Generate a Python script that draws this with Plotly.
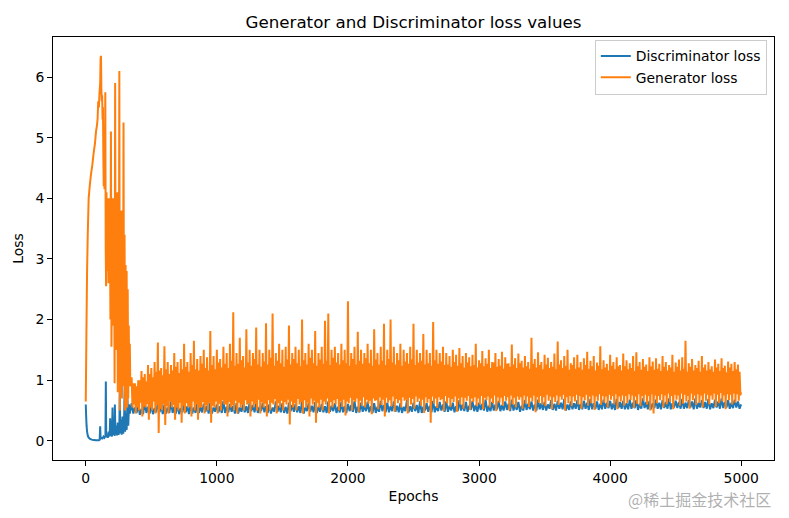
import plotly.graph_objects as go

# ---- Generator loss: early phase (epoch, loss) ----
gen_early_epochs = [0, 5, 10, 15, 22, 30, 40, 50, 60, 70, 78, 85, 90, 95, 100, 105, 110, 113, 116, 119,
                    122, 125, 128, 131, 134, 137, 140, 143, 146, 149, 152, 155, 158, 161, 164, 167, 170,
                    173, 176, 180, 184, 188, 192, 196, 200, 204, 208, 212, 216, 220, 224, 228, 232, 236,
                    240, 244, 248, 252, 256, 260, 264, 268, 272, 276, 280, 284, 288, 292, 296, 300, 304,
                    308, 312, 316, 320, 324, 328, 332, 336, 340]
gen_early_loss = [0.65, 1.8, 2.8, 3.4, 4.0, 4.2, 4.4, 4.55, 4.75, 4.9, 5.1, 5.2, 5.3, 5.6, 5.5, 5.75, 5.9, 6.3, 6.35, 5.8,
                  5.6, 5.7, 5.3, 5.5, 4.7, 4.2, 4.6, 4.15, 4.5, 5.75, 3.2, 2.55, 4.1, 3.0, 4.0, 2.8, 3.6,
                  2.6, 4.0, 2.9, 3.8, 2.0, 5.1, 1.55, 3.5, 2.4, 4.0, 1.9, 3.2, 0.95, 5.9, 2.2, 3.9, 1.5,
                  4.1, 0.8, 3.0, 1.4, 6.1, 0.5, 3.5, 1.2, 3.8, 0.7, 2.6, 1.0, 5.25, 0.9, 3.4, 0.5, 2.9,
                  0.9, 2.8, 0.55, 2.5, 0.7, 1.9, 1.0, 1.6, 0.9]

# ---- Generator loss: band phase from epoch 350, one 25-epoch cycle per entry:
#      peak, trough, inner peak, inner trough ----
gen_band_start = 350
gen_band_step = 25
gen_band_hi = [1.05, 0.95, 1.0, 1.15, 1.1, 1.25, 1.2, 1.3,
               1.62, 1.2, 1.56, 1.3, 1.25, 1.45, 1.3, 1.35,
               1.6, 1.3, 1.45, 1.65, 1.35, 1.4, 1.5, 1.38,
               1.81, 1.4, 1.5, 1.35, 1.55, 1.45, 1.6, 2.12,
               1.45, 1.7, 1.4, 1.84, 1.5, 1.45, 1.87, 1.5,
               1.45, 1.94, 1.5, 2.1, 1.45, 1.6, 1.5, 1.55,
               1.9, 1.45, 1.55, 1.5, 2.0, 1.45, 1.6, 1.5,
               1.81, 1.45, 1.55, 1.98, 2.1, 1.5, 1.55, 1.45,
               1.6, 1.5, 2.3, 1.45, 1.55, 1.8, 1.5, 1.45,
               1.6, 1.5, 1.84, 1.45, 1.55, 1.93, 1.5, 2.0,
               1.55, 1.45, 1.6, 1.5, 1.45, 1.55, 1.93, 1.5,
               1.45, 1.76, 1.5, 1.45, 1.96, 1.5, 1.45, 1.55,
               1.45, 1.4, 1.5, 1.42, 1.53, 1.4, 1.45, 1.38,
               1.42, 1.6, 1.33, 1.48, 1.36, 1.5, 1.3, 1.45,
               1.35, 1.47, 1.38, 1.28, 1.59, 1.36, 1.44, 1.32,
               1.4, 1.3, 1.7, 1.35, 1.46, 1.3, 1.42, 1.37,
               1.3, 1.44, 1.64, 1.33, 1.4, 1.5, 1.28, 1.38,
               1.42, 1.3, 1.36, 1.47, 1.32, 1.4, 1.29, 1.56,
               1.33, 1.27, 1.42, 1.3, 1.38, 1.25, 1.44, 1.33,
               1.28, 1.4, 1.46, 1.3, 1.35, 1.26, 1.38, 1.31,
               1.36, 1.27, 1.4, 1.3, 1.25, 1.42, 1.29, 1.34,
               1.38, 1.65, 1.28, 1.35, 1.25, 1.32, 1.4, 1.26,
               1.3, 1.23, 1.34, 1.27, 1.36, 1.24, 1.31, 1.27,
               1.3, 1.26]
gen_band_lo = [0.55, 0.45, 0.5, 0.4, 0.55, 0.35, 0.5, 0.45,
               0.13, 0.5, 0.26, 0.45, 0.55, 0.35, 0.5, 0.3,
               0.45, 0.55, 0.4, 0.5, 0.35, 0.55, 0.45, 0.5,
               0.3, 0.55, 0.45, 0.5, 0.6, 0.4, 0.55, 0.5,
               0.45, 0.55, 0.5, 0.6, 0.4, 0.55, 0.5, 0.45,
               0.55, 0.4, 0.5, 0.6, 0.45, 0.55, 0.5, 0.6,
               0.27, 0.55, 0.5, 0.6, 0.45, 0.55, 0.4, 0.6,
               0.3, 0.55, 0.5, 0.6, 0.45, 0.55, 0.6, 0.5,
               0.56, 0.42, 0.62, 0.5, 0.64, 0.47, 0.58, 0.55,
               0.61, 0.44, 0.66, 0.52, 0.59, 0.4, 0.63, 0.57,
               0.48, 0.62, 0.55, 0.66, 0.45, 0.6, 0.53, 0.64,
               0.58, 0.46, 0.63, 0.3, 0.61, 0.54, 0.67, 0.49,
               0.62, 0.56, 0.64, 0.48, 0.6, 0.53, 0.66, 0.51,
               0.64, 0.57, 0.6, 0.52, 0.67, 0.55, 0.62, 0.49,
               0.63, 0.58, 0.66, 0.5, 0.6, 0.55, 0.68, 0.53,
               0.61, 0.56, 0.65, 0.47, 0.63, 0.6, 0.57, 0.66,
               0.52, 0.64, 0.59, 0.68, 0.5, 0.62, 0.57, 0.65,
               0.6, 0.53, 0.67, 0.58, 0.62, 0.51, 0.66, 0.59,
               0.63, 0.55, 0.68, 0.6, 0.52, 0.65, 0.58, 0.62,
               0.67, 0.54, 0.61, 0.57, 0.66, 0.6, 0.5, 0.45,
               0.62, 0.67, 0.55, 0.6, 0.64, 0.52, 0.68, 0.58,
               0.61, 0.65, 0.53, 0.67, 0.59, 0.63, 0.55, 0.66,
               0.6, 0.68, 0.56, 0.62, 0.65, 0.52, 0.67, 0.6,
               0.63, 0.66]
gen_band_mid_hi = [0.95, 0.9, 1.0, 1.05, 0.98, 1.1, 1.05, 1.14,
                   1.16, 1.08, 1.18, 1.1, 1.16, 1.22, 1.12, 1.18,
                   1.22, 1.14, 1.25, 1.18, 1.16, 1.27, 1.2, 1.16,
                   1.25, 1.18, 1.29, 1.21, 1.27, 1.2, 1.32, 1.24,
                   1.27, 1.33, 1.21, 1.29, 1.24, 1.35, 1.26, 1.22,
                   1.31, 1.26, 1.37, 1.24, 1.32, 1.28, 1.22, 1.34,
                   1.26, 1.35, 1.28, 1.23, 1.33, 1.26, 1.37, 1.28,
                   1.24, 1.34, 1.27, 1.32, 1.25, 1.37, 1.29, 1.26,
                   1.33, 1.28, 1.24, 1.35, 1.26, 1.32, 1.27, 1.36,
                   1.28, 1.24, 1.34, 1.26, 1.32, 1.25, 1.35, 1.29,
                   1.26, 1.33, 1.24, 1.31, 1.27, 1.34, 1.25, 1.29,
                   1.32, 1.26, 1.28, 1.24, 1.33, 1.27, 1.31, 1.25,
                   1.26, 1.22, 1.3, 1.24, 1.28, 1.21, 1.29, 1.23,
                   1.25, 1.21, 1.28, 1.23, 1.27, 1.2, 1.29, 1.22,
                   1.24, 1.19, 1.27, 1.22, 1.26, 1.2, 1.28, 1.21,
                   1.23, 1.19, 1.27, 1.21, 1.25, 1.18, 1.26, 1.2,
                   1.22, 1.18, 1.26, 1.2, 1.24, 1.17, 1.25, 1.19,
                   1.21, 1.17, 1.25, 1.19, 1.23, 1.16, 1.24, 1.18,
                   1.21, 1.16, 1.24, 1.18, 1.23, 1.16, 1.23, 1.18,
                   1.2, 1.15, 1.23, 1.17, 1.22, 1.15, 1.23, 1.17,
                   1.19, 1.15, 1.22, 1.16, 1.21, 1.14, 1.22, 1.16,
                   1.19, 1.14, 1.22, 1.16, 1.2, 1.14, 1.21, 1.16,
                   1.18, 1.14, 1.21, 1.15, 1.2, 1.13, 1.21, 1.15,
                   1.18, 1.14]
gen_band_mid_lo = [0.6, 0.55, 0.63, 0.57, 0.61, 0.55, 0.65, 0.59,
                   0.53, 0.61, 0.57, 0.65, 0.59, 0.55, 0.63, 0.58,
                   0.62, 0.57, 0.65, 0.6, 0.55, 0.64, 0.59, 0.63,
                   0.58, 0.65, 0.61, 0.67, 0.6, 0.64, 0.59, 0.66,
                   0.63, 0.6, 0.67, 0.62, 0.65, 0.61, 0.68, 0.64,
                   0.61, 0.67, 0.63, 0.69, 0.62, 0.66, 0.64, 0.68,
                   0.65, 0.62, 0.69, 0.64, 0.67, 0.63, 0.7, 0.66,
                   0.63, 0.68, 0.65, 0.7, 0.64, 0.67, 0.69, 0.65,
                   0.68, 0.65, 0.71, 0.67, 0.7, 0.66, 0.72, 0.68,
                   0.66, 0.7, 0.67, 0.72, 0.68, 0.71, 0.67, 0.73,
                   0.69, 0.67, 0.72, 0.68, 0.71, 0.69, 0.73, 0.7,
                   0.68, 0.72, 0.69, 0.73, 0.7, 0.72, 0.69, 0.74,
                   0.71, 0.69, 0.73, 0.7, 0.72, 0.71, 0.74, 0.7,
                   0.72, 0.7, 0.74, 0.71, 0.73, 0.7, 0.75, 0.72,
                   0.71, 0.74, 0.72, 0.75, 0.71, 0.73, 0.72, 0.75,
                   0.73, 0.71, 0.75, 0.72, 0.74, 0.72, 0.76, 0.73,
                   0.72, 0.75, 0.73, 0.76, 0.72, 0.74, 0.73, 0.76,
                   0.74, 0.72, 0.76, 0.73, 0.75, 0.73, 0.77, 0.74,
                   0.73, 0.76, 0.74, 0.77, 0.73, 0.75, 0.74, 0.77,
                   0.75, 0.73, 0.77, 0.74, 0.76, 0.74, 0.77, 0.75,
                   0.74, 0.77, 0.75, 0.78, 0.74, 0.76, 0.75, 0.78,
                   0.76, 0.74, 0.78, 0.75, 0.77, 0.75, 0.78, 0.76,
                   0.75, 0.78, 0.76, 0.79, 0.75, 0.77, 0.76, 0.78,
                   0.77, 0.75]
gen_last_epoch = 4999
gen_last_loss = 0.8

# ---- Discriminator loss: early phase ----
disc_early_epochs = [0, 3, 6, 10, 15, 20, 30, 45, 60, 80, 100, 106, 110, 113, 120, 128, 135, 142, 150, 153,
                     156, 162, 168, 175, 182, 186, 190, 196, 200, 204, 208, 214, 220, 222, 226, 232, 238,
                     244, 250, 256, 260, 263, 268, 274, 280, 286, 292, 297, 300, 306, 312, 318, 324, 330, 336]
disc_early_loss = [0.6, 0.4, 0.25, 0.15, 0.09, 0.06, 0.035, 0.02, 0.012, 0.008, 0.01, 0.02, 0.24, 0.03, 0.05, 0.04,
                   0.07, 0.05, 0.08, 0.98, 0.06, 0.12, 0.05, 0.15, 0.07, 0.37, 0.08, 0.2, 0.07, 0.55, 0.1,
                   0.18, 0.08, 0.6, 0.1, 0.25, 0.09, 0.3, 0.1, 0.2, 0.95, 0.12, 0.35, 0.1, 0.4, 0.12, 0.3,
                   0.95, 0.15, 0.45, 0.18, 0.7, 0.25, 0.6, 0.45]

# ---- Discriminator loss: band phase from epoch 350, one 50-epoch cycle per entry:
#      peak, trough, inner value, second trough ----
disc_band_start = 350
disc_band_step = 50
disc_band_hi = [0.62, 0.6, 0.64, 0.59, 0.63, 0.6, 0.65, 0.61, 0.62, 0.6,
                0.64, 0.61, 0.63, 0.6, 0.66, 0.61, 0.62, 0.6, 0.64, 0.62,
                0.63, 0.6, 0.65, 0.62, 0.63, 0.61, 0.66, 0.62, 0.64, 0.61,
                0.65, 0.62, 0.64, 0.61, 0.66, 0.63, 0.64, 0.62, 0.66, 0.63,
                0.65, 0.62, 0.67, 0.63, 0.65, 0.62, 0.66, 0.64, 0.65, 0.63,
                0.67, 0.64, 0.66, 0.63, 0.68, 0.64, 0.66, 0.65, 0.68, 0.64,
                0.67, 0.65, 0.68, 0.64, 0.67, 0.66, 0.69, 0.65, 0.67, 0.66,
                0.69, 0.65, 0.68, 0.66, 0.69, 0.66, 0.68, 0.67, 0.7, 0.66,
                0.68, 0.67, 0.7, 0.66, 0.69, 0.67, 0.7, 0.67, 0.69, 0.68,
                0.7, 0.67, 0.68]
disc_band_lo = [0.45, 0.43, 0.46, 0.44, 0.47, 0.45, 0.46, 0.44, 0.47, 0.45,
                0.46, 0.48, 0.45, 0.47, 0.46, 0.48, 0.45, 0.47, 0.49, 0.46,
                0.47, 0.45, 0.48, 0.46, 0.49, 0.47, 0.45, 0.48, 0.46, 0.47,
                0.48, 0.46, 0.47, 0.49, 0.46, 0.48, 0.47, 0.46, 0.49, 0.47,
                0.48, 0.46, 0.47, 0.49, 0.46, 0.48, 0.47, 0.5, 0.48, 0.47,
                0.5, 0.48, 0.49, 0.51, 0.48, 0.5, 0.49, 0.51, 0.5, 0.48,
                0.51, 0.5, 0.52, 0.5, 0.51, 0.53, 0.5, 0.52, 0.51, 0.53,
                0.52, 0.51, 0.53, 0.52, 0.54, 0.52, 0.53, 0.51, 0.54, 0.52,
                0.53, 0.54, 0.52, 0.54, 0.53, 0.55, 0.53, 0.54, 0.52, 0.55,
                0.54, 0.53, 0.55]
disc_band_mid = [0.55, 0.53, 0.56, 0.54, 0.57, 0.55, 0.56, 0.54, 0.57, 0.55,
                 0.56, 0.58, 0.55, 0.57, 0.56, 0.58, 0.55, 0.57, 0.59, 0.56,
                 0.57, 0.55, 0.58, 0.56, 0.59, 0.57, 0.55, 0.58, 0.56, 0.57,
                 0.58, 0.56, 0.57, 0.59, 0.56, 0.58, 0.57, 0.56, 0.59, 0.57,
                 0.58, 0.56, 0.57, 0.59, 0.56, 0.58, 0.57, 0.6, 0.58, 0.57,
                 0.6, 0.58, 0.59, 0.61, 0.58, 0.6, 0.59, 0.61, 0.6, 0.58,
                 0.61, 0.6, 0.62, 0.6, 0.61, 0.63, 0.6, 0.62, 0.61, 0.63,
                 0.62, 0.61, 0.63, 0.62, 0.64, 0.62, 0.63, 0.61, 0.64, 0.62,
                 0.63, 0.64, 0.62, 0.64, 0.63, 0.65, 0.63, 0.64, 0.62, 0.65,
                 0.64, 0.63, 0.65]
disc_band_lo2 = [0.46, 0.44, 0.45, 0.47, 0.44, 0.46, 0.45, 0.47, 0.44, 0.46,
                 0.47, 0.45, 0.48, 0.46, 0.47, 0.45, 0.48, 0.46, 0.47, 0.49,
                 0.46, 0.48, 0.47, 0.45, 0.48, 0.46, 0.49, 0.47, 0.48, 0.46,
                 0.49, 0.47, 0.46, 0.48, 0.47, 0.49, 0.46, 0.48, 0.47, 0.49,
                 0.47, 0.49, 0.48, 0.46, 0.5, 0.47, 0.49, 0.48, 0.5, 0.49,
                 0.49, 0.51, 0.48, 0.5, 0.49, 0.52, 0.5, 0.49, 0.51, 0.5,
                 0.52, 0.5, 0.51, 0.53, 0.5, 0.52, 0.51, 0.53, 0.52, 0.51,
                 0.53, 0.52, 0.54, 0.51, 0.53, 0.52, 0.54, 0.53, 0.52, 0.54,
                 0.52, 0.53, 0.55, 0.53, 0.54, 0.52, 0.55, 0.53, 0.54, 0.53,
                 0.55, 0.54, 0.53]
disc_last_epoch = 4999
disc_last_loss = 0.6

x_ticks = [0, 1000, 2000, 3000, 4000, 5000]
y_ticks = [0, 1, 2, 3, 4, 5, 6]


def band_series(start, step, lists):
    """Interleave the per-cycle value lists, spreading them evenly over each cycle."""
    xs, ys = [], []
    n = len(lists)
    for k in range(max(len(v) for v in lists)):
        for i, vals in enumerate(lists):
            if k < len(vals):
                xs.append(start + k * step + step * i / n)
                ys.append(vals[k])
    return xs, ys


gx, gy = band_series(gen_band_start, gen_band_step,
                     [gen_band_hi, gen_band_lo, gen_band_mid_hi, gen_band_mid_lo])
gen_x = gen_early_epochs + gx + [gen_last_epoch]
gen_y = gen_early_loss + gy + [gen_last_loss]

dx, dy = band_series(disc_band_start, disc_band_step,
                     [disc_band_hi, disc_band_lo, disc_band_mid, disc_band_lo2])
disc_x = disc_early_epochs + dx + [disc_last_epoch]
disc_y = disc_early_loss + dy + [disc_last_loss]

BLUE = "#1f77b4"
ORANGE = "#ff7f0e"
FONT = "DejaVu Sans"
TXT = 13.9

fig = go.Figure()
fig.add_trace(go.Scatter(x=disc_x, y=disc_y, mode="lines", name="Discriminator loss",
                         line=dict(color=BLUE, width=2.0, simplify=False)))
fig.add_trace(go.Scatter(x=gen_x, y=gen_y, mode="lines", name="Generator loss",
                         line=dict(color=ORANGE, width=2.0, simplify=False)))

axis_common = dict(showline=True, linecolor="black", linewidth=1, mirror=True,
                   ticks="outside", ticklen=5, tickwidth=1, tickcolor="black",
                   showgrid=False, zeroline=False,
                   tickfont=dict(family=FONT, size=TXT, color="black"))

# page has an 8px body margin; figure is sized so it fits inside the 789x518 window
W, H = 781, 510
fig.update_layout(
    width=W, height=H,
    margin=dict(l=45, r=15, t=29, b=58, autoexpand=False),
    paper_bgcolor="white", plot_bgcolor="white",
    title=dict(text="Generator and Discriminator loss values", x=0.5, xanchor="center",
               xref="paper", y=1 - 14 / H, yanchor="middle",
               font=dict(family=FONT, size=16.7, color="black")),
    xaxis=dict(range=[-250, 5250], tickvals=x_ticks, ticktext=[str(v) for v in x_ticks],
               title=dict(text="Epochs", font=dict(family=FONT, size=TXT, color="black"), standoff=6),
               **axis_common),
    yaxis=dict(range=[-0.316, 6.66], tickvals=y_ticks, ticktext=[str(v) for v in y_ticks],
               title=dict(text="Loss", font=dict(family=FONT, size=TXT, color="black"), standoff=8),
               **axis_common),
    legend=dict(x=0.99, y=0.994, xanchor="right", yanchor="top",
                bgcolor="rgba(255,255,255,0.8)", bordercolor="#cccccc", borderwidth=1,
                font=dict(family=FONT, size=TXT, color="black"), tracegroupgap=2),
    showlegend=True,
)

fig.add_annotation(text="@稀土掘金技术社区", xref="paper", yref="paper",
                   x=0.9986, y=-0.092, xanchor="right", yanchor="middle", showarrow=False,
                   font=dict(family="Noto Sans CJK SC", size=16, color="rgba(150,150,150,0.75)"))

fig.write_html("out.html")
